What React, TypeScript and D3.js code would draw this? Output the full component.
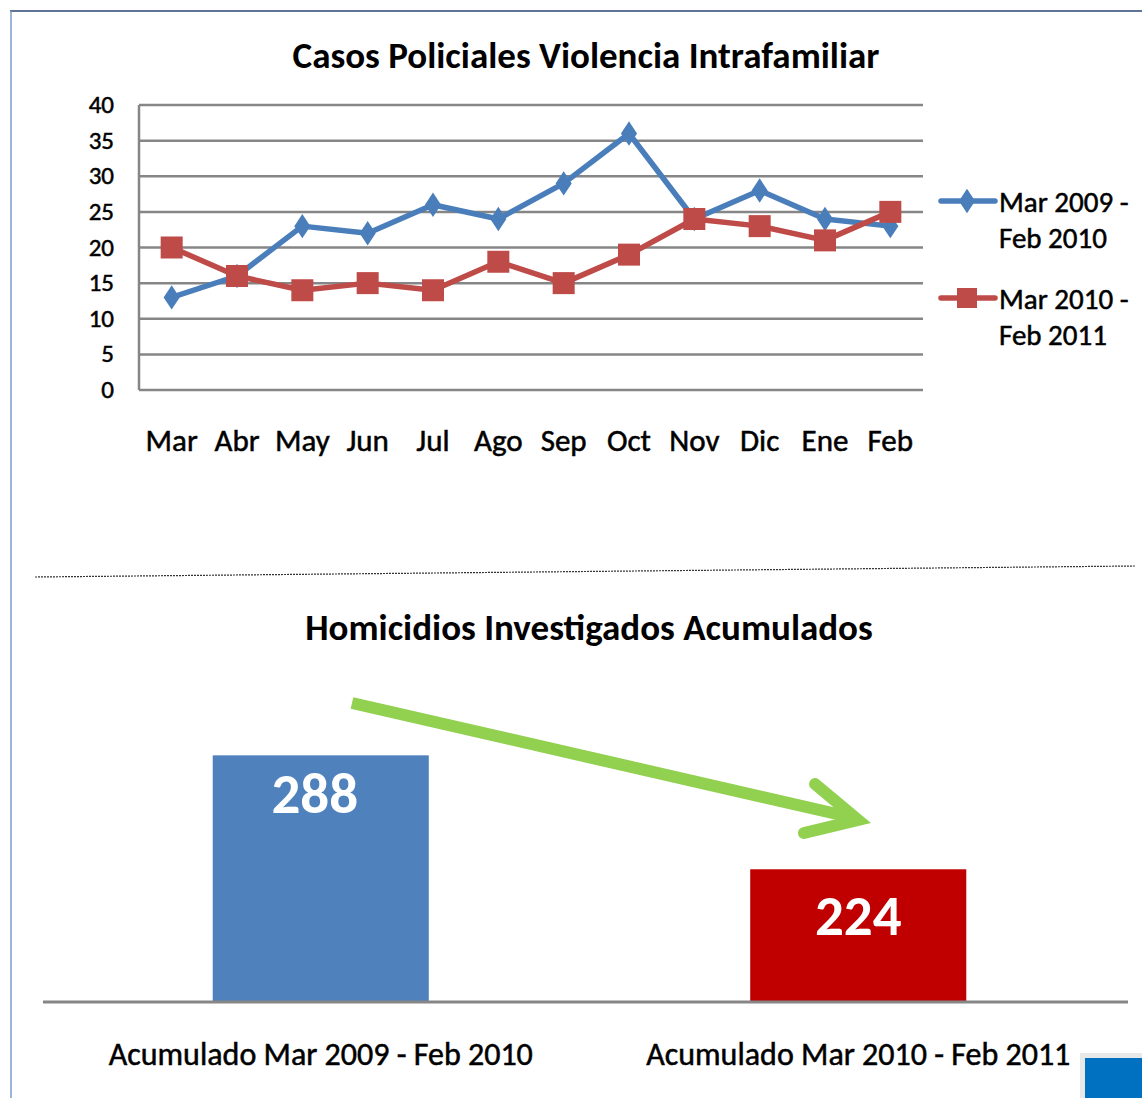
import React, { useEffect, useRef } from 'react';
import * as d3 from 'd3';

const months = ['Mar', 'Abr', 'May', 'Jun', 'Jul', 'Ago', 'Sep', 'Oct', 'Nov', 'Dic', 'Ene', 'Feb'];
const serie2009 = [13, 16, 23, 22, 26, 24, 29, 36, 24, 28, 24, 23];
const serie2010 = [20, 16, 14, 15, 14, 18, 15, 19, 24, 23, 21, 25];
const seriesNames = [['Mar 2009 -', 'Feb 2010'], ['Mar 2010 -', 'Feb 2011']];
const yTicks = [0, 5, 10, 15, 20, 25, 30, 35, 40];

const barLabels = ['Acumulado Mar 2009 - Feb 2010', 'Acumulado Mar 2010 - Feb 2011'];
const barValues = [288, 224];

const FONT = 'Carlito, Lato, "Open Sans", sans-serif';
const BLUE = '#4a7ebb';
const RED = '#be4b48';

const App: React.FC = () => {
  const svgRef = useRef<SVGSVGElement | null>(null);

  useEffect(() => {
    const W = 1142;
    const H = 1098;
    const svg = d3.select(svgRef.current).attr('width', W).attr('height', H).style('font-family', FONT);
    svg.selectAll('*').remove();

    svg.append('rect').attr('width', W).attr('height', H).attr('fill', '#fff');

    // frame lines
    svg.append('line').attr('x1', 10).attr('x2', W).attr('y1', 11).attr('y2', 11)
      .attr('stroke', '#2a4670').attr('stroke-width', 1.5);
    svg.append('line').attr('x1', 11).attr('x2', 11).attr('y1', 11).attr('y2', H)
      .attr('stroke', '#7a9cc8').attr('stroke-width', 1.5);

    // heavier text like the original rendering
    const heavy = (sel: any) => sel.attr('stroke', '#000').attr('stroke-width', 0.5).attr('paint-order', 'stroke');

    // ---------- line chart ----------
    const x = d3.scaleBand<string>().domain(months).range([139, 923]);
    const y = d3.scaleLinear().domain([0, 40]).range([390, 105]);

    svg.append('text').attr('x', 586).attr('y', 68).attr('text-anchor', 'middle')
      .attr('font-size', 37).attr('font-weight', 700).attr('fill', '#000')
      .text('Casos Policiales Violencia Intrafamiliar');

    const grid = svg.append('g');
    grid.selectAll('line').data(yTicks).join('line')
      .attr('x1', 139).attr('x2', 923)
      .attr('y1', (d) => y(d)).attr('y2', (d) => y(d))
      .attr('stroke', '#868686').attr('stroke-width', 2.5);
    grid.append('line').attr('x1', 139).attr('x2', 139).attr('y1', y(40)).attr('y2', y(0))
      .attr('stroke', '#868686').attr('stroke-width', 2.5);

    svg.append('g').selectAll('text').data(yTicks).join('text')
      .attr('x', 114).attr('y', (d) => y(d) + 8).attr('text-anchor', 'end')
      .attr('font-size', 25).attr('fill', '#000').call(heavy).text((d) => d);

    svg.append('g').selectAll('text').data(months).join('text')
      .attr('x', (d) => (x(d) as number) + x.bandwidth() / 2).attr('y', 451)
      .attr('text-anchor', 'middle').attr('font-size', 31).attr('fill', '#000').call(heavy).text((d) => d);

    const line = d3.line<number>()
      .x((_, i) => (x(months[i]) as number) + x.bandwidth() / 2)
      .y((d) => y(d));

    const diamond = d3.symbol().type(d3.symbolDiamond).size(170);

    // blue series
    svg.append('path').datum(serie2009).attr('d', line).attr('fill', 'none')
      .attr('stroke', BLUE).attr('stroke-width', 5.5).attr('stroke-linejoin', 'round');
    svg.append('g').selectAll('path').data(serie2009).join('path')
      .attr('d', diamond as any)
      .attr('transform', (d, i) => `translate(${(x(months[i]) as number) + x.bandwidth() / 2},${y(d)}) scale(1.15,1)`)
      .attr('fill', BLUE);

    // red series
    svg.append('path').datum(serie2010).attr('d', line).attr('fill', 'none')
      .attr('stroke', RED).attr('stroke-width', 5.5).attr('stroke-linejoin', 'round');
    svg.append('g').selectAll('rect').data(serie2010).join('rect')
      .attr('x', (d, i) => (x(months[i]) as number) + x.bandwidth() / 2 - 11)
      .attr('y', (d) => y(d) - 11).attr('width', 22).attr('height', 22).attr('fill', RED);

    // legend
    const legend = svg.append('g');
    const legendY = [201, 298];
    [BLUE, RED].forEach((c, i) => {
      const ly = legendY[i];
      legend.append('line').attr('x1', 941).attr('x2', 995).attr('y1', ly).attr('y2', ly)
        .attr('stroke', c).attr('stroke-width', 5.5).attr('stroke-linecap', 'round');
      if (i === 0) {
        legend.append('path').attr('d', diamond as any)
          .attr('transform', `translate(967,${ly}) scale(1.15,1)`).attr('fill', c);
      } else {
        legend.append('rect').attr('x', 957).attr('y', ly - 10).attr('width', 20).attr('height', 20).attr('fill', c);
      }
      legend.append('text').attr('x', 999).attr('y', ly + 11).attr('font-size', 29).attr('fill', '#000')
        .call(heavy).text(seriesNames[i][0]);
      legend.append('text').attr('x', 999).attr('y', ly + 47).attr('font-size', 29).attr('fill', '#000')
        .call(heavy).text(seriesNames[i][1]);
    });

    // separator
    svg.append('line').attr('x1', 35).attr('x2', 1135).attr('y1', 577).attr('y2', 566)
      .attr('stroke', '#333').attr('stroke-width', 1.2).attr('stroke-dasharray', '2,1');

    // ---------- bar chart ----------
    svg.append('text').attr('x', 589).attr('y', 640).attr('text-anchor', 'middle')
      .attr('font-size', 37).attr('font-weight', 700).attr('fill', '#000')
      .text('Homicidios Investigados Acumulados');

    const bx = d3.scaleBand<string>().domain(barLabels).range([52, 1127]).paddingInner(0.598).paddingOuter(0.299);
    const by = d3.scaleLinear().domain([150, 300]).range([1001, 734]);
    const barColors = ['#4f81bd', '#c00000'];
    const labelDrop = [58, 66];

    svg.append('g').selectAll('rect').data(barValues).join('rect')
      .attr('x', (_, i) => bx(barLabels[i]) as number)
      .attr('y', (d) => by(d))
      .attr('width', bx.bandwidth())
      .attr('height', (d) => by(150) - by(d))
      .attr('fill', (_, i) => barColors[i]);

    svg.append('g').selectAll('text').data(barValues).join('text')
      .attr('x', (_, i) => (bx(barLabels[i]) as number) + bx.bandwidth() / 2 - (i === 0 ? 6 : 0))
      .attr('y', (d, i) => by(d) + labelDrop[i])
      .attr('text-anchor', 'middle').attr('font-size', 57).attr('font-weight', 700).attr('fill', '#fff')
      .text((d) => d);

    svg.append('line').attr('x1', 43).attr('x2', 1128).attr('y1', 1002).attr('y2', 1002)
      .attr('stroke', '#868686').attr('stroke-width', 3);

    svg.append('g').selectAll('text').data(barLabels).join('text')
      .attr('x', (d) => (bx(d) as number) + bx.bandwidth() / 2)
      .attr('y', 1065).attr('text-anchor', 'middle').attr('font-size', 32).attr('fill', '#000')
      .call(heavy).text((d) => d);

    // green arrow
    const arrow = svg.append('g').attr('fill', 'none').attr('stroke', '#92d050')
      .attr('stroke-width', 12).attr('stroke-linecap', 'round').attr('stroke-linejoin', 'miter');
    arrow.append('line').attr('x1', 352).attr('y1', 703).attr('x2', 850).attr('y2', 817).attr('stroke-linecap', 'butt');
    arrow.append('path').attr('d', 'M815,784 L858,820 L804,833');

    // blue square bottom right
    svg.append('rect').attr('x', 1080).attr('y', 1053).attr('width', 62).attr('height', 45)
      .attr('fill', '#e8e8e8');
    svg.append('rect').attr('x', 1085).attr('y', 1058).attr('width', 57).attr('height', 40)
      .attr('fill', '#0070c0');
  }, []);

  return <svg ref={svgRef} style={{ position: 'absolute', left: 0, top: 0 }} />;
};

export default App;
